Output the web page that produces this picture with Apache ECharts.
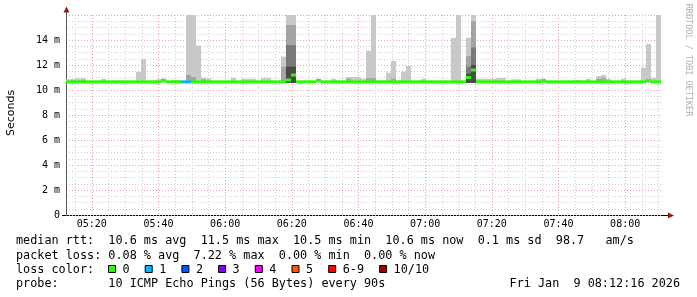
<!DOCTYPE html>
<html><head><meta charset="utf-8">
<script src="https://cdn.jsdelivr.net/npm/echarts@6/dist/echarts.min.js"></script>
<style>html,body{margin:0;padding:0;background:#fff}#c{width:697px;height:297px}</style>
</head><body><div id="c"></div>
<script>
// ---- time axis (minutes since midnight), one sample every 90 s ----
const startMin = 312.25;   // 05:12:15
const stepMin = 1.5;
const sampleCount = 119;
const endMin = startMin + sampleCount * stepMin;

const xMinorTicks = [315,320,325,330,335,340,345,350,355,360,365,370,375,380,385,390,395,400,405,410,415,420,425,430,435,440,445,450,455,460,465,470,475,480,485,490];
const xMajorTicks = [320,340,360,380,400,420,440,460,480];
const xTickLabels = ['05:20','05:40','06:00','06:20','06:40','07:00','07:20','07:40','08:00'];

// ---- median RTT per sample (ms) ----
const medianRtt = [
 10.65,10.65,10.65,10.65,10.65,10.65,10.65,10.65,10.65,10.65,
 10.65,10.65,10.65,10.65,10.65,10.65,10.65,10.65,10.65,10.78,
 10.65,10.65,10.65,10.65,10.65,10.65,10.65,10.65,10.65,10.65,
 10.65,10.65,10.65,10.65,10.65,10.65,10.65,10.65,10.65,10.65,
 10.65,10.65,10.65,10.65,10.8,11.2,10.65,10.65,10.65,10.65,
 10.78,10.65,10.65,10.65,10.65,10.65,10.65,10.65,10.65,10.65,
 10.65,10.65,10.65,10.65,10.65,10.65,10.65,10.65,10.65,10.65,
 10.65,10.65,10.65,10.65,10.65,10.65,10.65,10.65,10.65,10.65,
 11.0,11.6,10.65,10.65,10.65,10.65,10.65,10.65,10.65,10.65,
 10.65,10.65,10.65,10.65,10.65,10.75,10.65,10.65,10.65,10.65,
 10.65,10.65,10.65,10.65,10.65,10.65,10.65,10.65,10.65,10.65,
 10.65,10.65,10.65,10.65,10.65,10.65,10.75,10.65,10.65
];
// ---- lost pings per sample (of 10) ----
const lossCount = [
 0,0,0,0,0,0,0,0,0,0, 0,0,0,0,0,0,0,0,0,0,
 0,0,0,1,1,0,0,0,0,0, 0,0,0,0,0,0,0,0,0,0,
 0,0,0,0,0,0,0,0,0,0, 0,0,0,0,0,0,0,0,0,0,
 0,0,0,0,0,0,0,0,0,0, 0,0,0,0,0,0,0,0,0,0,
 0,0,0,0,0,0,0,0,0,0, 0,0,0,0,0,0,0,0,0,0,
 0,0,0,0,0,0,0,0,0,0, 0,0,0,0,0,0,0,0,0
];
// ---- smoke: lowest ping and highest ping per sample (ms) ----
const smokeMin = 10.56;
const smokeMax = [
 10.86,10.86,10.93,10.93,10.75,10.75,10.75,10.9,10.75,10.75,
 10.75,10.75,10.75,10.75,11.46,12.48,10.75,10.75,10.86,10.75,
 10.75,10.8,10.8,10.75,16,16,13.55,10.96,10.93,10.75,
 10.75,10.75,10.75,10.96,10.75,10.9,10.9,10.9,10.75,10.96,
 10.96,10.75,10.75,12.67,16,16,10.75,10.75,10.75,10.75,
 10.75,10.75,10.75,10.9,10.75,10.75,11.04,11.04,11.04,10.9,
 13.15,16,10.75,10.75,11.39,12.32,10.75,11.47,11.92,10.75,
 10.75,10.9,10.75,10.75,10.75,10.75,10.75,14.16,16,10.75,
 14.18,16,10.9,10.9,10.9,10.9,10.96,10.96,10.75,10.86,
 10.86,10.75,10.75,10.75,10.9,10.9,10.75,10.75,10.75,10.75,
 10.75,10.75,10.8,10.75,10.9,10.75,11.12,11.2,10.9,10.75,
 10.75,10.9,10.75,10.75,10.75,11.79,13.68,10.96,16
];
// inner (denser) smoke bands, sparse: sample index + band top (ms)
const band2Index = [1,3,24,25,27,43,44,45,56,60,61,65,80,81,106,107];
const band2Top   = [10.82,10.82,11.2,11.04,10.85,11.87,15.2,15.2,10.9,10.95,10.95,10.9,12.72,15.5,10.9,10.96];
const band3Index = [44,45,80,81];
const band3Top   = [13.6,13.6,11.87,13.4];
const band4Index = [44,45,80,81];
const band4Top   = [11.87,11.87,11.3,12.0];

const lossLabels = ['0','1','2','3','4','5','6-9','10/10'];
const lossColors = ['#26ff00','#00b8ff','#0059ff','#7e00ff','#ff00ff','#ff5500','#ff0000','#a10000'];

const legendRows = [
 'median rtt:  10.6 ms avg  11.5 ms max  10.5 ms min  10.6 ms now  0.1 ms sd  98.7   am/s',
 'packet loss: 0.08 % avg  7.22 % max  0.00 % min  0.00 % now',
 'loss color:',
 'probe:       10 ICMP Echo Pings (56 Bytes) every 90s'
];
const stampText = 'Fri Jan  9 08:12:16 2026';

function lossIndex(n){ n = n || 0; return n >= 10 ? 7 : (n >= 6 ? 6 : n); }

function bandSeries(idxs, tops, color, z){
  return {
    type:'custom', xAxisIndex:0, yAxisIndex:0, clip:true, z:z, silent:true,
    data: idxs.map((i,k)=>[startMin+i*stepMin, smokeMin, startMin+(i+1)*stepMin, tops[k]]),
    encode:{x:[0,2], y:[1,3]},
    renderItem:(params, api)=>{
      const a = api.coord([api.value(0), api.value(3)]);
      const b = api.coord([api.value(2), api.value(1)]);
      return {type:'rect', shape:{x:a[0], y:a[1], width:b[0]-a[0], height:b[1]-a[1]}, style:{fill:color}};
    }
  };
}
const allIdx = smokeMax.map((v,i)=>i);

const medianSeries = {
  type:'custom', xAxisIndex:0, yAxisIndex:0, clip:true, z:10, silent:true,
  data: medianRtt.map((m,i)=>[startMin+i*stepMin, m, startMin+(i+1)*stepMin, lossCount[i]]),
  encode:{x:[0,2], y:1},
  renderItem:(params, api)=>{
    const a = api.coord([api.value(0), api.value(1)]);
    const b = api.coord([api.value(2), api.value(1)]);
    return {type:'rect', shape:{x:a[0], y:a[1]-1.5, width:b[0]-a[0], height:3},
            style:{fill: lossColors[lossIndex(api.value(3))]}};
  }
};

const mono = 'DejaVu Sans Mono';
const gridGrey = '#cfcfcf';
const gridRed = '#e4a4a4';
const arrowRed = '#8e1c1c';

const graphics = [];
// axis extensions and arrows
graphics.push({type:'line', shape:{x1:66.5,y1:15,x2:66.5,y2:9}, style:{stroke:'#555',lineWidth:1}});
graphics.push({type:'polygon', shape:{points:[[63.5,12.5],[69.5,12.5],[66.5,6.5]]}, style:{fill:arrowRed}});
graphics.push({type:'line', shape:{x1:62,y1:215.5,x2:669,y2:215.5}, style:{stroke:'#000',lineWidth:1}});
graphics.push({type:'polygon', shape:{points:[[668,212.5],[668,218.5],[674,215.5]]}, style:{fill:arrowRed}});
// axis title and watermark
graphics.push({type:'text', x:11, y:113, rotation:Math.PI/2,
  style:{text:'Seconds', font:'11px "DejaVu Sans"', fill:'#000', align:'center', verticalAlign:'middle'}});
graphics.push({type:'text', x:688.5, y:60, rotation:-Math.PI/2,
  style:{text:'RRDTOOL / TOBI OETIKER', font:'8.5px "DejaVu Sans Mono"', fill:'#b0b0b0', align:'center', verticalAlign:'middle'}});
// legend rows
const rowY = [241, 255.5, 269.5, 283.5];
legendRows.forEach((t,i)=>{
  graphics.push({type:'text', x:16, y:rowY[i],
    style:{text:t, font:'11.8px "DejaVu Sans Mono"', fill:'#000', align:'left', verticalAlign:'middle'}});
});
graphics.push({type:'text', x:680, y:rowY[3],
  style:{text:stampText, font:'11.8px "DejaVu Sans Mono"', fill:'#000', align:'right', verticalAlign:'middle'}});
let bx = 108.5;
lossLabels.forEach((lab,k)=>{
  graphics.push({type:'rect', shape:{x:bx, y:265.5, width:7, height:7}, style:{fill:lossColors[k], stroke:'#000', lineWidth:1}});
  graphics.push({type:'text', x:bx+14, y:rowY[2],
    style:{text:lab, font:'11.8px "DejaVu Sans Mono"', fill:'#000', align:'left', verticalAlign:'middle'}});
  bx += 14.2 + 7.1*lab.length + 15.4;
});

const option = {
  animation:false,
  backgroundColor:'#fff',
  grid:{left:66, top:15, width:595, height:200, containLabel:false},
  xAxis:[
    {type:'value', min:startMin, max:endMin, position:'bottom',
     axisLine:{show:false}, axisTick:{show:false, customValues:xMinorTicks},
     axisLabel:{show:false, customValues:xMinorTicks},
     splitLine:{show:true, lineStyle:{color:gridGrey, type:[1,2], width:1}}},
    {type:'value', min:startMin, max:endMin, position:'bottom',
     axisLine:{show:false}, axisTick:{show:false, customValues:xMajorTicks},
     axisLabel:{show:true, customValues:xMajorTicks, margin:4,
       formatter:(v)=>{const k = xMajorTicks.indexOf(Math.round(v)); return k>=0 ? xTickLabels[k] : '';},
       fontFamily:mono, fontSize:10, color:'#000'},
     splitLine:{show:true, lineStyle:{color:gridRed, type:[1,2], width:1}}}
  ],
  yAxis:[
    {type:'value', min:0, max:16, interval:0.5, position:'left',
     axisLine:{show:false}, axisTick:{show:false}, axisLabel:{show:false},
     splitLine:{show:true, lineStyle:{color:gridGrey, type:[1,2], width:1}}},
    {type:'value', min:0, max:16, interval:2, position:'left',
     axisLine:{show:true, lineStyle:{color:'#555', width:1}}, axisTick:{show:false},
     axisLabel:{show:true, margin:6, fontFamily:mono, fontSize:10, color:'#000',
       formatter:(v)=> v===0 ? '0' : (v>=16 ? '' : v+' m')},
     splitLine:{show:true, lineStyle:{color:gridRed, type:[1,2], width:1}}}
  ],
  series:[
    bandSeries(allIdx, smokeMax, '#c8c8c8', 2),
    bandSeries(band2Index, band2Top, '#a4a4a4', 3),
    bandSeries(band3Index, band3Top, '#7a7a7a', 4),
    bandSeries(band4Index, band4Top, '#4a4a4a', 5),
    medianSeries
  ],
  graphic: graphics
};
const chart = echarts.init(document.getElementById('c'));
chart.setOption(option);
</script>
</body></html>
